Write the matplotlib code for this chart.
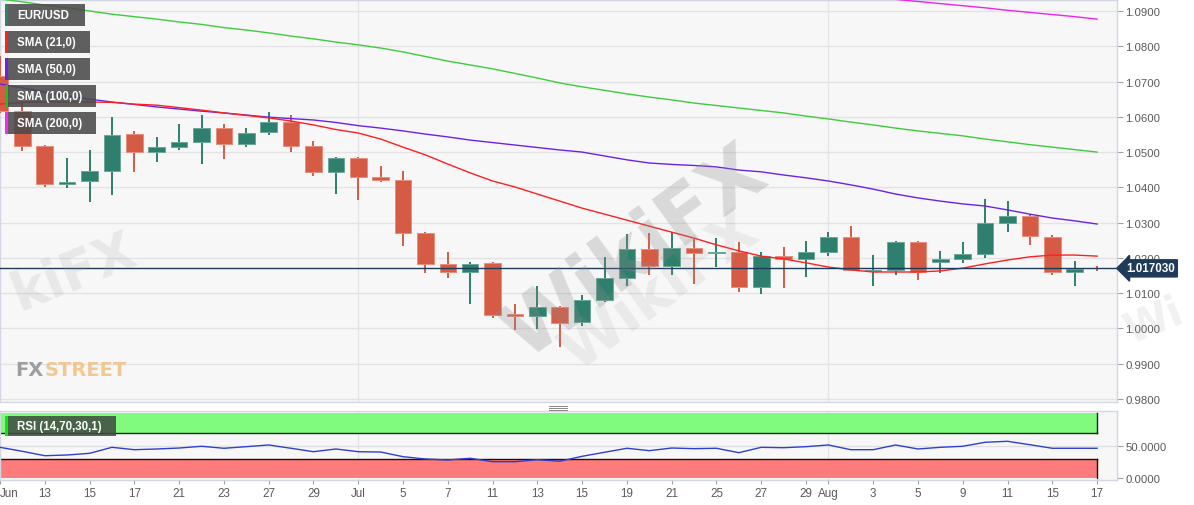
import matplotlib
matplotlib.use('Agg')
import matplotlib.pyplot as plt
import matplotlib.transforms as mtransforms
from matplotlib.patches import Rectangle
from matplotlib.lines import Line2D
import numpy as np

plt.rcParams['font.family'] = ['Liberation Sans', 'DejaVu Sans']

# ---------------- data ----------------
dates = ['Jun 9', 'Jun 10', 'Jun 13', 'Jun 14', 'Jun 15', 'Jun 16', 'Jun 17',
         'Jun 20', 'Jun 21', 'Jun 22', 'Jun 23', 'Jun 24', 'Jun 27', 'Jun 28',
         'Jun 29', 'Jun 30', 'Jul 1', 'Jul 4', 'Jul 5', 'Jul 6', 'Jul 7', 'Jul 8',
         'Jul 11', 'Jul 12', 'Jul 13', 'Jul 14', 'Jul 15', 'Jul 18', 'Jul 19',
         'Jul 20', 'Jul 21', 'Jul 22', 'Jul 25', 'Jul 26', 'Jul 27', 'Jul 28',
         'Jul 29', 'Aug 1', 'Aug 2', 'Aug 3', 'Aug 4', 'Aug 5', 'Aug 8', 'Aug 9',
         'Aug 10', 'Aug 11', 'Aug 12', 'Aug 15', 'Aug 16', 'Aug 17']

opens = [1.0716, 1.0617, 1.0517, 1.0409, 1.0419, 1.0446, 1.0552, 1.0500, 1.0514, 1.0529,
         1.0568, 1.0523, 1.0557, 1.0585, 1.0517, 1.0444, 1.0483, 1.0430, 1.0421, 1.0271,
         1.0183, 1.0160, 1.0185, 1.0040, 1.0036, 1.0061, 1.0018, 1.0081, 1.0143, 1.0225,
         1.0177, 1.0228, 1.0214, 1.0217, 1.0117, 1.0205, 1.0197, 1.0217, 1.0259, 1.0164,
         1.0166, 1.0245, 1.0187, 1.0197, 1.0211, 1.0299, 1.0319, 1.0259, 1.0160, 1.0171]
highs = [1.0772, 1.0642, 1.0521, 1.0483, 1.0506, 1.0600, 1.0560, 1.0543, 1.0580, 1.0605,
         1.0580, 1.0568, 1.0614, 1.0605, 1.0531, 1.0486, 1.0486, 1.0461, 1.0446, 1.0274,
         1.0217, 1.0188, 1.0188, 1.0069, 1.0120, 1.0063, 1.0095, 1.0203, 1.0268, 1.0271,
         1.0274, 1.0254, 1.0257, 1.0245, 1.0217, 1.0231, 1.0248, 1.0273, 1.0290, 1.0208,
         1.0248, 1.0248, 1.0220, 1.0245, 1.0367, 1.0361, 1.0324, 1.0265, 1.0191, 1.0178]
lows = [1.0612, 1.0504, 1.0401, 1.0398, 1.0358, 1.0378, 1.0444, 1.0472, 1.0506, 1.0466,
        1.0480, 1.0514, 1.0548, 1.0500, 1.0432, 1.0381, 1.0364, 1.0415, 1.0234, 1.0157,
        1.0143, 1.0069, 1.0030, 0.9996, 0.9998, 0.9947, 1.0007, 1.0075, 1.0120, 1.0151,
        1.0151, 1.0126, 1.0174, 1.0103, 1.0098, 1.0115, 1.0146, 1.0205, 1.0163, 1.0120,
        1.0151, 1.0137, 1.0157, 1.0186, 1.0200, 1.0273, 1.0237, 1.0151, 1.0120, 1.0164]
closes = [1.0617, 1.0518, 1.0409, 1.0414, 1.0446, 1.0548, 1.0500, 1.0514, 1.0529, 1.0568,
          1.0523, 1.0554, 1.0585, 1.0517, 1.0444, 1.0483, 1.0429, 1.0420, 1.0271, 1.0183,
          1.0160, 1.0183, 1.0038, 1.0036, 1.0061, 1.0015, 1.0081, 1.0143, 1.0225, 1.0177,
          1.0228, 1.0214, 1.0217, 1.0117, 1.0205, 1.0197, 1.0217, 1.0259, 1.0166, 1.0167,
          1.0245, 1.0160, 1.0197, 1.0211, 1.0299, 1.0319, 1.0262, 1.0160, 1.0168, 1.0170]

sma21 = [1.0636, 1.0641, 1.0642, 1.0642, 1.0642, 1.0641, 1.0636, 1.0633, 1.0626, 1.0619,
         1.0611, 1.0604, 1.0597, 1.0588, 1.0577, 1.0564, 1.0554, 1.0537, 1.0514, 1.0492,
         1.0466, 1.0441, 1.0418, 1.0401, 1.0381, 1.0361, 1.0341, 1.0324, 1.0307, 1.0290,
         1.0273, 1.0256, 1.0237, 1.0220, 1.0205, 1.0197, 1.0186, 1.0174, 1.0166, 1.0160,
         1.0160, 1.0160, 1.0163, 1.0171, 1.0183, 1.0194, 1.0203, 1.0208, 1.0208, 1.0205]
sma50 = [1.0693, 1.0682, 1.0670, 1.0659, 1.0650, 1.0642, 1.0635, 1.0628, 1.0622, 1.0616,
         1.0611, 1.0605, 1.0599, 1.0595, 1.0591, 1.0584, 1.0575, 1.0568, 1.0560, 1.0551,
         1.0543, 1.0534, 1.0527, 1.0520, 1.0513, 1.0506, 1.0500, 1.0489, 1.0478, 1.0469,
         1.0465, 1.0462, 1.0458, 1.0449, 1.0444, 1.0435, 1.0427, 1.0418, 1.0407, 1.0395,
         1.0381, 1.0370, 1.0361, 1.0353, 1.0347, 1.0336, 1.0324, 1.0313, 1.0305, 1.0296]
sma100 = [1.0934, 1.0926, 1.0917, 1.0909, 1.0900, 1.0891, 1.0884, 1.0877, 1.0869, 1.0862,
          1.0853, 1.0846, 1.0838, 1.0829, 1.0821, 1.0812, 1.0804, 1.0795, 1.0784, 1.0771,
          1.0758, 1.0747, 1.0736, 1.0723, 1.0710, 1.0696, 1.0685, 1.0675, 1.0665, 1.0656,
          1.0648, 1.0639, 1.0632, 1.0625, 1.0618, 1.0611, 1.0602, 1.0594, 1.0585, 1.0577,
          1.0568, 1.0560, 1.0553, 1.0546, 1.0537, 1.0529, 1.0521, 1.0514, 1.0507, 1.0500]
nan = float('nan')
sma200 = [nan] * 39 + [1.0940, 1.0933, 1.0927, 1.0921, 1.0915, 1.0909, 1.0902, 1.0896,
                       1.0890, 1.0884, 1.0877]
rsi = [47.5, 41.3, 34.5, 35.6, 38.2, 47.5, 43.8, 44.9, 46.4, 49.1,
       46.0, 48.5, 51.1, 46.0, 40.7, 44.9, 40.7, 40.2, 33.0, 29.4,
       27.9, 30.5, 25.2, 25.2, 28.3, 25.9, 33.6, 39.8, 46.0, 42.3,
       46.4, 45.4, 46.0, 39.2, 47.5, 46.9, 48.5, 51.1, 43.8, 43.8,
       51.1, 44.9, 47.5, 49.1, 55.3, 56.8, 51.5, 46.0, 46.0, 46.0]
last_price = 1.017030

tick_dates = ['Jun 9', 'Jun 13', 'Jun 15', 'Jun 17', 'Jun 21', 'Jun 23', 'Jun 27', 'Jun 29',
              'Jul 1', 'Jul 5', 'Jul 7', 'Jul 11', 'Jul 13', 'Jul 15', 'Jul 19', 'Jul 21',
              'Jul 25', 'Jul 27', 'Jul 29', 'Aug 1', 'Aug 3', 'Aug 5', 'Aug 9', 'Aug 11',
              'Aug 15', 'Aug 17']
tick_labels = ['Jun', '13', '15', '17', '21', '23', '27', '29', 'Jul', '5', '7', '11', '13',
               '15', '19', '21', '25', '27', '29', 'Aug', '3', '5', '9', '11', '15', '17']
month_starts = ['Jul 1', 'Aug 1']
price_ticks = [0.98, 0.99, 1.00, 1.01, 1.02, 1.03, 1.04, 1.05, 1.06, 1.07, 1.08, 1.09]
rsi_ticks = [0, 50]
rsi_upper, rsi_lower = 70, 30

# ---------------- figure ----------------
W, H = 1194, 506
fig = plt.figure(figsize=(W / 100, H / 100), dpi=100, facecolor='white')

def fx(x):
    return x / W

def fy(y):
    return 1 - y / H

ax_right = 1117
ax = fig.add_axes([0, fy(402.5), fx(ax_right), (402.5 - 1) / H])
ax2 = fig.add_axes([0, fy(481), fx(ax_right), (481 - 412) / H])

n = len(dates)
x = np.arange(n)
o = np.array(opens); h = np.array(highs); l = np.array(lows); c = np.array(closes)
up = c >= o
green, red = '#2e7f6d', '#d65b45'
green_e, red_e = '#6aa898', '#e88e7c'
cols = [green if u else red for u in up]
ecols = [green_e if u else red_e for u in up]

xmax = ax_right / 22.39
for a in (ax, ax2):
    a.set_xlim(0, xmax)
    a.set_facecolor('#f7f7f8')
    for s in a.spines.values():
        s.set_color('#d3d7e2')
        s.set_linewidth(1)

ax.set_ylim(0.97928, 1.09312)
ax.set_yticks(price_ticks)
ax.set_yticklabels([f'{v:.4f}' for v in price_ticks])
ax.yaxis.tick_right()
ax.tick_params(axis='y', length=4, width=0.8, color='#9aa0ad', labelsize=8.2,
               labelcolor='#5a5a5a', pad=2)
ax.set_xticks([])
ax.yaxis.grid(True, color='#e3e3e6', lw=1)
ax.set_axisbelow(True)
for d in month_starts:
    ax.axvline(dates.index(d), color='#e3e4ea', lw=1, zorder=0.5)
    ax2.axvline(dates.index(d), color='#e3e4ea', lw=1, zorder=0.5)

# candles
ax.vlines(x, l, h, colors=cols, lw=1.4, zorder=3)
bottoms = np.minimum(o, c)
heights = np.maximum(np.abs(c - o), 0.00005)
ax.bar(x, heights, bottom=bottoms, width=0.74, color=cols, edgecolor=ecols,
       linewidth=0.7, zorder=4)

# moving averages
ax.plot(x, sma100, color='#3ccc3c', lw=1.0, zorder=5)
ax.plot(x, sma200, color='#ee22ee', lw=1.0, zorder=5)
ax.plot(x, sma50, color='#6b22e6', lw=1.0, zorder=5)
ax.plot(x, sma21, color='#ff1f1f', lw=1.0, zorder=5)

# last price line + label
ax.axhline(last_price, color='#1f3b5a', lw=1.0, zorder=6)
trans = mtransforms.blended_transform_factory(ax.transAxes, ax.transData)
ax.text(1 + 9 / ax_right, last_price, f'{last_price:.6f}', transform=trans,
        ha='left', va='center', color='white', fontsize=8.4, fontweight='bold',
        clip_on=False, zorder=10,
        bbox=dict(boxstyle='larrow,pad=0.22', fc='#1f3b5a', ec='#1f3b5a'))

# ---------------- RSI panel ----------------
ax2.set_ylim(-3.1, 103.7)
x0, x1 = x[0], x[-1]
ax2.add_patch(Rectangle((x0, rsi_upper), x1 - x0, 100 - rsi_upper, fc='#80fb7e',
                        ec='none', zorder=1))
ax2.add_patch(Rectangle((x0, 0), x1 - x0, rsi_lower, fc='#fd7b7b', ec='none', zorder=1))
ax2.plot([x0, x1], [rsi_upper, rsi_upper], color='#0b2a0b', lw=1, zorder=2)
ax2.plot([x1, x1], [rsi_upper, 100], color='#0b2a0b', lw=1, zorder=2)
ax2.plot([x0, x1], [rsi_lower, rsi_lower], color='#2a0b0b', lw=1, zorder=2)
ax2.plot([x1, x1], [0, rsi_lower], color='#2a0b0b', lw=1, zorder=2)
ax2.axhline(50, color='#e0e0e4', lw=1, zorder=0.6)
ax2.plot(x, rsi, color='#2f3fd0', lw=1.0, zorder=4)
ax2.yaxis.tick_right()
ax2.set_yticks(rsi_ticks)
ax2.set_yticklabels([f'{v:.4f}' for v in rsi_ticks])
ax2.tick_params(axis='y', length=4, width=0.8, color='#9aa0ad', labelsize=8.2,
                labelcolor='#5a5a5a', pad=2)
tpos = [dates.index(d) for d in tick_dates]
ax2.set_xticks(tpos)
ax2.set_xticklabels(tick_labels)
ax2.tick_params(axis='x', length=3, width=0.8, color='#9aa0ad', labelsize=8.4,
                labelcolor='#5a5a5a', pad=2)
ax2.get_xticklabels()[0].set_horizontalalignment('left')

# ---------------- legend boxes ----------------
legend = [('EUR/USD', 85, 5, 27, '#2e7f6d'),
          ('SMA (21,0)', 90, 32, 54, '#ff1f1f'),
          ('SMA (50,0)', 90, 59, 81, '#6b22e6'),
          ('SMA (100,0)', 96, 86, 108, '#22bb22'),
          ('SMA (200,0)', 96, 113, 135, '#ff22ff')]
for label, xr, yt, yb, col in legend:
    fig.add_artist(Rectangle((fx(5), fy(yb)), fx(xr - 5), (yb - yt) / H,
                             transform=fig.transFigure, fc='#4a4a4a', alpha=0.88,
                             ec='none', zorder=20))
    fig.add_artist(Rectangle((fx(5), fy(yb)), fx(3), (yb - yt) / H,
                             transform=fig.transFigure, fc=col, ec='none', zorder=21))
    fig.text(fx(17), fy((yt + yb) / 2), label, color='white', fontsize=8.3,
             fontweight='bold', va='center', ha='left', zorder=22)

fig.add_artist(Rectangle((fx(5), fy(437)), fx(111), 20 / H, transform=fig.transFigure,
                         fc='#3f4a3f', alpha=0.85, ec='none', zorder=20))
fig.add_artist(Rectangle((fx(5), fy(437)), fx(3), 20 / H, transform=fig.transFigure,
                         fc='#18e018', ec='none', zorder=21))
fig.text(fx(17), fy(427), 'RSI (14,70,30,1)', color='white', fontsize=8.3,
         fontweight='bold', va='center', ha='left', zorder=22)

# panel handle
for yy in (406.5, 408.5, 410.5):
    fig.add_artist(Line2D([fx(549), fx(567)], [fy(yy), fy(yy)], color='#8a8a8a',
                          lw=0.7, transform=fig.transFigure))

# ---------------- watermarks ----------------
fig.text(fx(15), fy(371), 'FX', color='#8f8f8f', fontsize=14, fontweight='bold',
         family='DejaVu Sans', va='center', ha='left', alpha=0.85, zorder=8)
fig.text(fx(45), fy(371), 'STREET', color='#f2c07e', fontsize=14, fontweight='bold',
         family='DejaVu Sans', va='center', ha='left', alpha=0.85, zorder=8)
fig.text(fx(635), fy(252), 'WikiFX', color='#8c8c8c', fontsize=56, fontweight='bold',
         family='DejaVu Sans', rotation=36, ha='center', va='center', alpha=0.28,
         zorder=9)
fig.text(fx(660), fy(292), 'WikiFX', color='#9a9a9a', fontsize=42, fontweight='bold',
         family='DejaVu Sans', rotation=36, ha='center', va='center', alpha=0.14,
         zorder=9)
fig.text(fx(4), fy(272), 'kiFX', color='#999999', fontsize=38, fontweight='bold',
         family='DejaVu Sans', rotation=22, ha='left', va='center', alpha=0.16,
         zorder=9)
fig.text(fx(1118), fy(322), 'Wi', color='#999999', fontsize=30, fontweight='bold',
         family='DejaVu Sans', rotation=22, ha='left', va='center', alpha=0.14,
         zorder=9)

fig.savefig('out.png', dpi=100, facecolor='white')
